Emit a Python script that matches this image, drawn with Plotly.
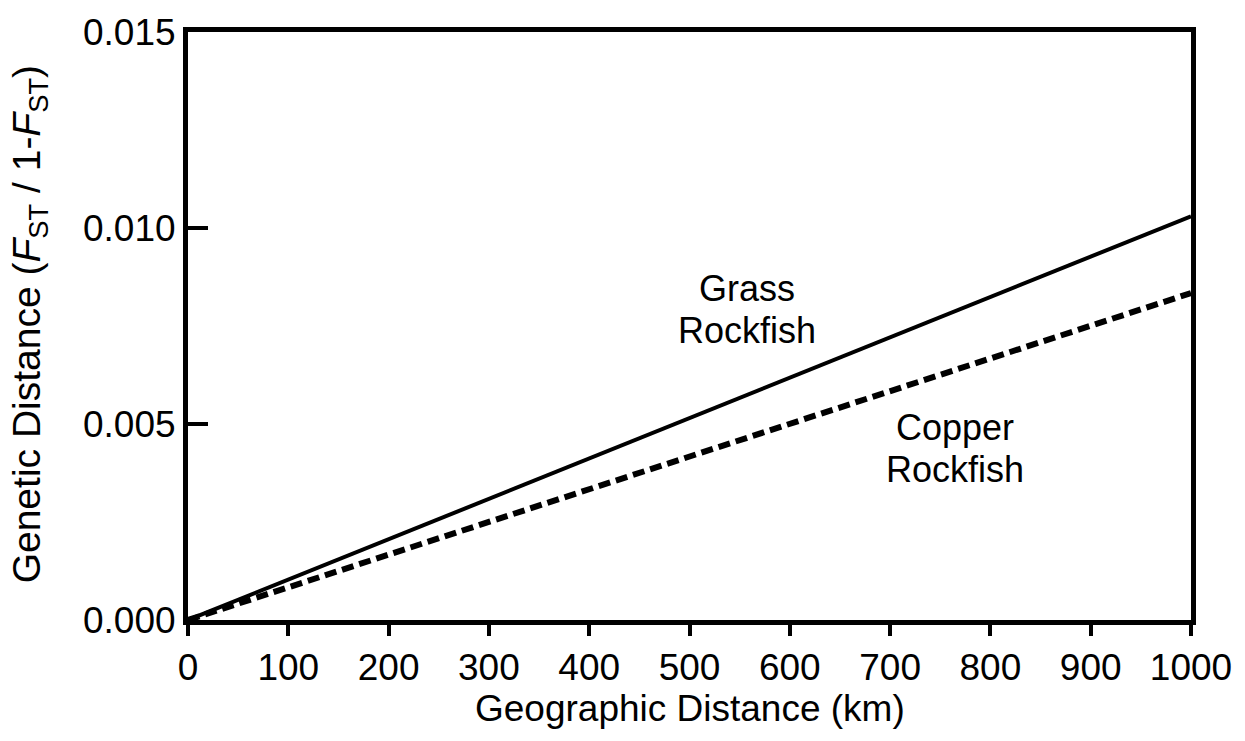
import plotly.graph_objects as go

distance_km = [0, 1000]
grass_fst = [0.0, 0.0103]
copper_fst = [0.0, 0.00834]
x_ticks = [0, 100, 200, 300, 400, 500, 600, 700, 800, 900, 1000]
y_ticks = [0.0, 0.005, 0.010, 0.015]
y_tick_labels = ["0.000", "0.005", "0.010", "0.015"]

FONT = "Liberation Sans, Arial, sans-serif"
FS = 37

fig = go.Figure()
fig.add_trace(go.Scatter(x=distance_km, y=grass_fst, mode="lines",
                         line=dict(color="black", width=4), name="Grass Rockfish",
                         showlegend=False))
fig.add_trace(go.Scatter(x=distance_km, y=copper_fst, mode="lines",
                         line=dict(color="black", width=6, dash="12px,6px"),
                         name="Copper Rockfish", showlegend=False))

labels = [
    (557, 0.00845, "Grass"),
    (557, 0.00738, "Rockfish"),
    (765, 0.00491, "Copper"),
    (765, 0.00383, "Rockfish"),
]
for lx, ly, txt in labels:
    fig.add_annotation(x=lx, y=ly, text=txt, showarrow=False,
                       font=dict(family=FONT, size=FS - 1, color="black"))

# axis titles
fig.add_annotation(x=0.5, y=-0.151, xref="paper", yref="paper",
                   text="Geographic Distance (km)", showarrow=False,
                   xanchor="center", yanchor="middle",
                   font=dict(family=FONT, size=FS, color="black"))
fig.add_annotation(x=-0.158, y=0.502, xref="paper", yref="paper",
                   text="Genetic Distance (<i>F</i><sub>ST</sub> / 1-<i>F</i><sub>ST</sub>)",
                   showarrow=False, textangle=-90, xanchor="center", yanchor="middle",
                   font=dict(family=FONT, size=39, color="black"))

axis_common = dict(showline=True, linecolor="black", linewidth=5, mirror=True,
                   showgrid=False, zeroline=False, tickcolor="black",
                   tickfont=dict(family=FONT, size=FS, color="black"))

fig.update_xaxes(range=[0, 1000], tickvals=x_ticks, ticks="outside", ticklen=11,
                 tickwidth=4, **axis_common)
fig.update_yaxes(range=[0, 0.015], tickvals=y_ticks, ticktext=y_tick_labels,
                 ticks="inside", ticklen=20, tickwidth=4, **axis_common)

fig.update_layout(width=1245, height=741, plot_bgcolor="white", paper_bgcolor="white",
                  margin=dict(l=188, r=54, t=25, b=121))

fig.write_html("out.html")
